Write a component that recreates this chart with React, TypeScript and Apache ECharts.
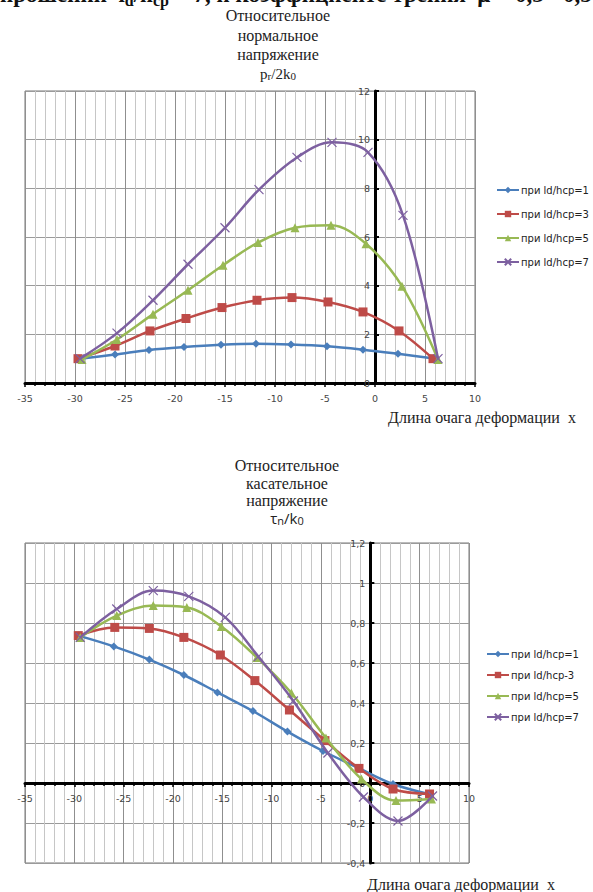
import React, { useEffect, useRef } from "react";
import * as echarts from "echarts";

// ---------- Chart 1: relative normal stress pr/2k0 ----------
const n1X = [-29.5, -26.0, -22.6, -19.1, -15.4, -11.9, -8.4, -4.8, -1.2, 2.3, 6.1];
const n1Y = [1.0, 1.17, 1.36, 1.48, 1.57, 1.61, 1.58, 1.51, 1.37, 1.2, 1.0];
const n3X = [-29.7, -26.0, -22.5, -18.9, -15.3, -11.8, -8.3, -4.7, -1.2, 2.4, 5.8];
const n3Y = [1.0, 1.52, 2.14, 2.65, 3.1, 3.4, 3.51, 3.33, 2.92, 2.14, 1.0];
const n5X = [-29.3, -25.8, -22.2, -18.7, -15.2, -11.7, -8.0, -4.4, -0.9, 2.7, 6.3];
const n5Y = [0.97, 1.79, 2.83, 3.81, 4.84, 5.77, 6.38, 6.48, 5.72, 3.98, 0.97];
const n7X = [-29.5, -25.8, -22.2, -18.7, -15.0, -11.6, -7.8, -4.3, -0.7, 2.8, 6.3];
const n7Y = [1.0, 2.05, 3.4, 4.88, 6.38, 7.95, 9.27, 9.89, 9.48, 6.89, 1.0];

// ---------- Chart 2: relative shear stress tn/k0 ----------
const t1X = [-29.6, -26.0, -22.4, -18.9, -15.5, -11.9, -8.4, -4.8, -1.2, 2.3, 5.9];
const t1Y = [0.737, 0.683, 0.617, 0.54, 0.453, 0.36, 0.257, 0.16, 0.075, -0.005, -0.055];
const t3X = [-29.6, -25.9, -22.4, -18.9, -15.2, -11.7, -8.2, -4.6, -1.15, 2.3, 6.0];
const t3Y = [0.737, 0.778, 0.773, 0.728, 0.64, 0.512, 0.365, 0.212, 0.073, -0.03, -0.055];
const t5X = [-29.4, -25.7, -22.0, -18.6, -15.1, -11.5, -8.0, -4.5, -0.9, 2.6, 6.2];
const t5Y = [0.728, 0.837, 0.887, 0.878, 0.783, 0.628, 0.45, 0.225, 0.02, -0.088, -0.08];
const t7X = [-29.4, -25.7, -22.0, -18.4, -14.7, -11.35, -7.8, -4.3, -0.7, 2.8, 6.3];
const t7Y = [0.728, 0.87, 0.962, 0.933, 0.828, 0.632, 0.41, 0.15, -0.07, -0.19, -0.065];

const NAMES1 = ["при ld/hcp=1", "при ld/hcp=3", "при ld/hcp=5", "при ld/hcp=7"];
const NAMES2 = ["при ld/hcp=1", "при ld/hcp-3", "при ld/hcp=5", "при ld/hcp=7"];

const X_MIN = -35;
const X_MAX = 10;
const X_STEP = 5;
const Y1 = { min: 0, max: 12, step: 2 };
const Y2 = { min: -0.4, max: 1.2, step: 0.2 };

const COLORS = ["#4A7EBB", "#BE4B48", "#98B954", "#7D60A0"];
const SYMBOLS = ["diamond", "rect", "triangle", "path://M0,0L10,10M10,0L0,10"];
const SIZES = [8, 9, 9, 9];

const zip = (xs: number[], ys: number[]) => xs.map((x, i) => [x, ys[i]]);

const fmt = (v: number) => {
  const r = Math.round(v * 10) / 10;
  return String(r).replace(".", ",");
};

// grid geometry (pixels)
const G1 = { left: 25, top: 91, width: 450, height: 292 };
const G2 = { left: 25, top: 543, width: 444, height: 320 };

export default function App() {
  const ref = useRef<HTMLDivElement>(null);
  useEffect(() => {
    if (!ref.current) return;
    const chart = echarts.init(ref.current, null, { renderer: "svg" });

    // pixel offset of the value-0 position from the grid's left / bottom edge
    const zeroXOffset = (g: typeof G1) => ((0 - X_MIN) / (X_MAX - X_MIN)) * g.width;
    const zeroYOffset = (g: typeof G1, r: typeof Y1) => ((0 - r.min) / (r.max - r.min)) * g.height;

    const xAxisBase = (gridIndex: number, offset: number) => ({
      gridIndex,
      type: "value",
      position: "bottom",
      offset,
      min: X_MIN,
      max: X_MAX,
      interval: X_STEP,
      axisLine: { onZero: false, lineStyle: { color: "#000", width: 3 } },
      axisTick: { show: true, length: 4, lineStyle: { color: "#000", width: 1.5 } },
      minorTick: { show: true, splitNumber: 5, length: 3, lineStyle: { color: "#000", width: 1.5 } },
      splitLine: { show: true, lineStyle: { color: "#8f8f8f", width: 1 } },
      minorSplitLine: { show: true, lineStyle: { color: "#c6c6c6", width: 1 } },
      axisLabel: { fontSize: 9.5, color: "#444", fontFamily: "DejaVu Sans", margin: 10 },
    });

    const yAxisBase = (gridIndex: number, r: typeof Y1, offset: number) => ({
      gridIndex,
      type: "value",
      position: "left",
      offset,
      min: r.min,
      max: r.max,
      interval: r.step,
      axisLine: { onZero: false, lineStyle: { color: "#000", width: 3 } },
      axisTick: { show: true, inside: true, length: 4, lineStyle: { color: "#000", width: 2 } },
      splitLine: { show: true, lineStyle: { color: "#9a9a9a", width: 1 } },
      axisLabel: {
        fontSize: 9.5,
        color: "#444",
        fontFamily: "DejaVu Sans",
        margin: 5,
        formatter: (v: number) => fmt(v),
      },
    });

    const mkSeries = (names: string[], data: number[][][], axisIndex: number) =>
      data.map((d, i) => ({
        name: names[i],
        type: "line",
        xAxisIndex: axisIndex,
        yAxisIndex: axisIndex,
        data: d,
        smooth: 0.35,
        symbol: SYMBOLS[i],
        symbolSize: SIZES[i],
        showAllSymbol: true,
        lineStyle: { color: COLORS[i], width: 2.5 },
        itemStyle: {
          color: COLORS[i],
          borderColor: COLORS[i],
          borderWidth: i === 3 ? 1.2 : 0,
        },
        z: 3 + i,
      }));

    const serif = "'Liberation Serif', 'Times New Roman', serif";
    const titleLine = (text: string, x: number, y: number) => ({
      type: "text",
      x,
      y,
      style: {
        text,
        align: "center",
        verticalAlign: "middle",
        font: `16px ${serif}`,
        fill: "#222",
      },
    });

    const legendBase = (left: number, top: number, gap: number, data: string[]) => ({
      orient: "vertical",
      left,
      top,
      itemWidth: 22,
      itemHeight: 8,
      itemGap: gap,
      textStyle: { fontSize: 10, color: "#222", fontFamily: "DejaVu Sans", padding: [0, 0, 0, -3] },
      data,
    });

    const option: any = {
      animation: false,
      backgroundColor: "#fff",
      grid: [
        { ...G1, show: true, borderColor: "#777", borderWidth: 1, containLabel: false },
        { ...G2, show: true, borderColor: "#777", borderWidth: 1, containLabel: false },
      ],
      xAxis: [xAxisBase(0, 0), xAxisBase(1, -zeroYOffset(G2, Y2))],
      yAxis: [yAxisBase(0, Y1, -zeroXOffset(G1)), yAxisBase(1, Y2, -zeroXOffset(G2))],
      legend: [
        legendBase(491, 180, 14, NAMES1),
        legendBase(481, 644, 11, NAMES2),
      ],
      series: [
        ...mkSeries(NAMES1, [zip(n1X, n1Y), zip(n3X, n3Y), zip(n5X, n5Y), zip(n7X, n7Y)], 0),
        ...mkSeries(NAMES2, [zip(t1X, t1Y), zip(t3X, t3Y), zip(t5X, t5Y), zip(t7X, t7Y)], 1),
      ],
      graphic: [
        {
          type: "text",
          x: 0,
          y: -6,
          style: {
            text: "{a|прошении  l}{s|d}{a|/h}{s|cp}{a| = 7, и коэффициенте трения  μ = 0,3 - 0,5}",
            verticalAlign: "middle",
            fill: "#111",
            rich: {
              a: { font: `bold 23px ${serif}`, fill: "#111" },
              s: { font: `bold 16px ${serif}`, fill: "#111", padding: [12, 0, 0, 0] },
            },
          },
        },
        titleLine("Относительное", 278, 15),
        titleLine("нормальное", 278, 35),
        titleLine("напряжение", 278, 54),
        {
          type: "text",
          x: 278,
          y: 74,
          style: {
            text: "{a|p}{s|r}{a|/2k}{s|0}",
            align: "center",
            verticalAlign: "middle",
            rich: {
              a: { font: `15px ${serif}`, fill: "#222" },
              s: { font: `11px ${serif}`, fill: "#222", padding: [4, 0, 0, 0] },
            },
          },
        },
        {
          type: "text",
          x: 388,
          y: 417,
          style: { text: "Длина очага деформации  x", font: `16px ${serif}`, fill: "#222", verticalAlign: "middle" },
        },
        titleLine("Относительное", 287, 465),
        titleLine("касательное", 287, 483),
        titleLine("напряжение", 287, 500),
        {
          type: "text",
          x: 287,
          y: 518,
          style: {
            text: "{a|τ}{s|n}{a|/k}{s|0}",
            align: "center",
            verticalAlign: "middle",
            rich: {
              a: { font: `15px 'Open Sans', sans-serif`, fill: "#222" },
              s: { font: `11px 'Open Sans', sans-serif`, fill: "#222", padding: [4, 0, 0, 0] },
            },
          },
        },
        {
          type: "text",
          x: 367,
          y: 884,
          style: { text: "Длина очага деформации  x", font: `16px ${serif}`, fill: "#222", verticalAlign: "middle" },
        },
      ],
    };

    chart.setOption(option);
    return () => chart.dispose();
  }, []);

  return (
    <div
      ref={ref}
      style={{ position: "absolute", left: 0, top: 0, width: 593, height: 892, background: "#fff" }}
    />
  );
}
